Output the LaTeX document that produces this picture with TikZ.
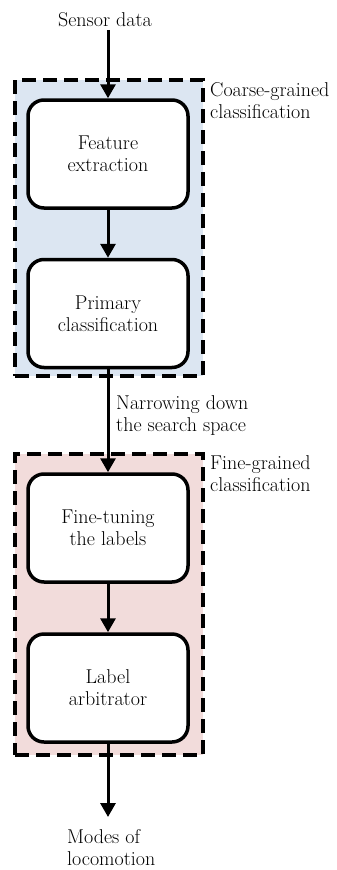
\documentclass[tikz,border=0pt]{standalone}
\usepackage{fontspec}
\usetikzlibrary{positioning,arrows.meta}
\definecolor{coarsefill}{HTML}{DCE6F2}
\definecolor{finefill}{HTML}{F2DCDB}

\begin{document}
\begin{tikzpicture}[x=1pt, y=-1pt, font=\fontsize{20}{21.8}\selectfont,
        stage/.style={draw, line width=3.5pt, rounded corners=16pt, fill=white, minimum width=160pt, minimum height=108pt, align=center},
        group/.style={draw, dash pattern=on 14pt off 7pt, line width=4pt, minimum width=188pt},
        flow/.style={-{Triangle[length=14pt,width=15pt]}, line width=3pt},
        note/.style={align=left, anchor=base west, inner sep=0pt}]
    \useasboundingbox (0,0) rectangle (337,870);
    % dashed groups
    \node[group, fill=coarsefill, minimum height=296pt] (coarse) at (109,228) {};
    \node[group, fill=finefill, minimum height=301pt] (fine) at (109,604.5) {};
    \node[note] (coarselbl) at (210,118) {Coarse-grained\\classification};
    \node[note] (finelbl) at (210,491) {Fine-grained\\classification};
    % stages
    \node[anchor=base] (sensor) at (105,26) {Sensor data};
    \node[stage] (feat) at (108,154) {Feature\\extraction};
    \node[stage] (prim) at (108,313.5) {Primary\\classification};
    \node[stage] (tune) at (108,528) {Fine-tuning\\the labels};
    \node[stage] (arb) at (108,688) {Label\\arbitrator};
    \node[note] (narrow) at (116,431) {Narrowing down\\the search space};
    \coordinate (outtip) at (108,817);
    \node[note] (modes) at (67,865) {Modes of\\locomotion};
    % connectors
    \draw[flow] (feat |- sensor.south) -- (feat);
    \draw[flow] (feat) -- (prim);
    \draw[flow] (prim) -- (tune);
    \draw[flow] (tune) -- (arb);
    \draw[flow] (arb) -- (outtip);
\end{tikzpicture}
\end{document}
